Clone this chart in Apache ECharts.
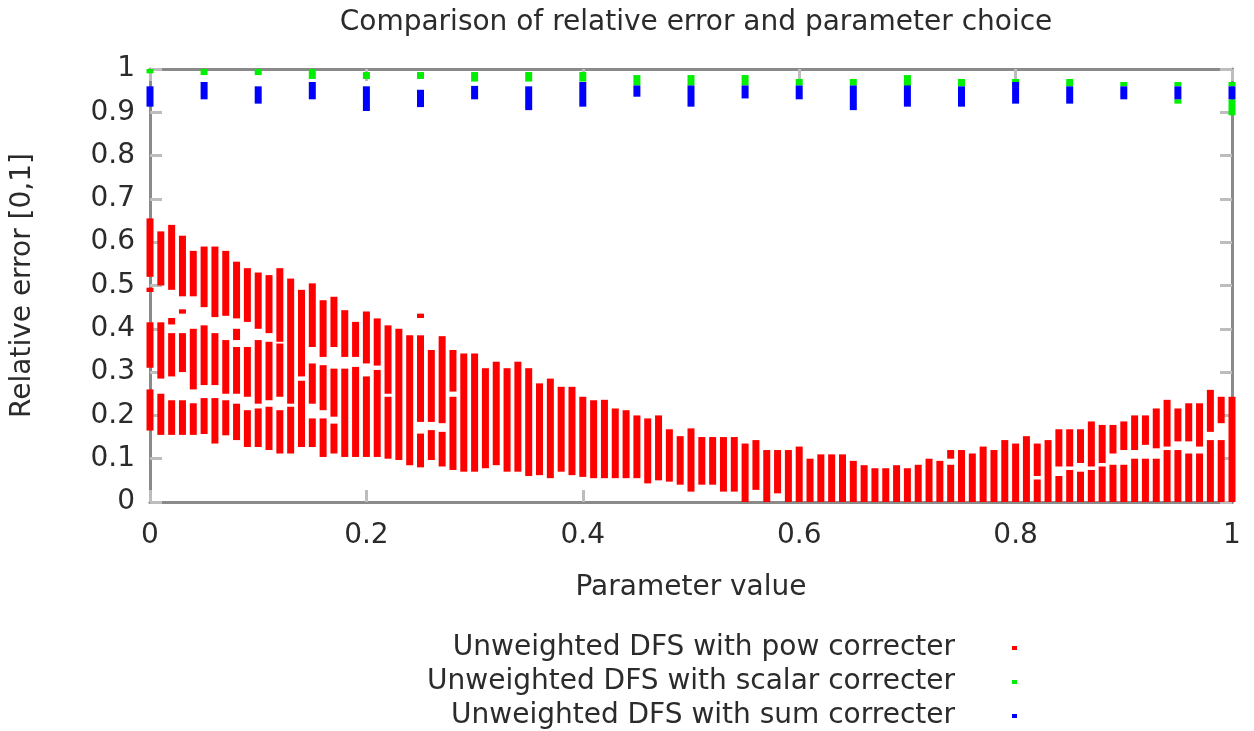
<!DOCTYPE html>
<html>
<head>
<meta charset="utf-8">
<script src="https://cdn.jsdelivr.net/npm/echarts@6/dist/echarts.min.js"></script>
<style>html,body{margin:0;padding:0;background:#fff;}#c{width:1254px;height:731px;}</style>
</head>
<body>
<div id="c"></div>
<script>
// ---- data ----
const titleText = 'Comparison of relative error and parameter choice';
const xName = 'Parameter value';
const yName = 'Relative error [0,1]';
const seriesNames = ['Unweighted DFS with pow correcter', 'Unweighted DFS with scalar correcter', 'Unweighted DFS with sum correcter'];
const xTickLabels = ['0', '0.2', '0.4', '0.6', '0.8', '1'];
const yTickLabels = ['0', '0.1', '0.2', '0.3', '0.4', '0.5', '0.6', '0.7', '0.8', '0.9', '1'];

// pow corrector: parameter values and the y-ranges covered by the dense dots in each column
const powX = [0, 0.01, 0.02, 0.03, 0.04, 0.05, 0.06, 0.07, 0.08, 0.09,
  0.10, 0.11, 0.12, 0.13, 0.14, 0.15, 0.16, 0.17, 0.18, 0.19,
  0.20, 0.21, 0.22, 0.23, 0.24, 0.25, 0.26, 0.27, 0.28, 0.29,
  0.30, 0.31, 0.32, 0.33, 0.34, 0.35, 0.36, 0.37, 0.38, 0.39,
  0.40, 0.41, 0.42, 0.43, 0.44, 0.45, 0.46, 0.47, 0.48, 0.49,
  0.50, 0.51, 0.52, 0.53, 0.54, 0.55, 0.56, 0.57, 0.58, 0.59,
  0.60, 0.61, 0.62, 0.63, 0.64, 0.65, 0.66, 0.67, 0.68, 0.69,
  0.70, 0.71, 0.72, 0.73, 0.74, 0.75, 0.76, 0.77, 0.78, 0.79,
  0.80, 0.81, 0.82, 0.83, 0.84, 0.85, 0.86, 0.87, 0.88, 0.89,
  0.90, 0.91, 0.92, 0.93, 0.94, 0.95, 0.96, 0.97, 0.98, 0.99, 1.00];
const powRanges = [
  [[0.52,0.655],[0.485,0.495],[0.31,0.415],[0.165,0.26]],
  [[0.50,0.625],[0.285,0.415],[0.155,0.25]],
  [[0.49,0.64],[0.41,0.425],[0.29,0.39],[0.155,0.235]],
  [[0.475,0.615],[0.435,0.445],[0.30,0.39],[0.155,0.235]],
  [[0.475,0.58],[0.26,0.40],[0.155,0.228]],
  [[0.45,0.59],[0.27,0.408],[0.157,0.24]],
  [[0.427,0.59],[0.27,0.39],[0.135,0.24]],
  [[0.43,0.58],[0.25,0.374],[0.154,0.235]],
  [[0.424,0.555],[0.374,0.40],[0.25,0.358],[0.143,0.227]],
  [[0.416,0.54],[0.243,0.358],[0.127,0.212]],
  [[0.40,0.53],[0.227,0.374],[0.127,0.216]],
  [[0.39,0.524],[0.235,0.37],[0.12,0.22]],
  [[0.37,0.54],[0.243,0.366],[0.112,0.212]],
  [[0.227,0.516],[0.112,0.22]],
  [[0.29,0.49],[0.127,0.28]],
  [[0.358,0.505],[0.227,0.32],[0.127,0.193]],
  [[0.335,0.466],[0.212,0.316],[0.104,0.193]],
  [[0.358,0.474],[0.197,0.308],[0.112,0.181]],
  [[0.335,0.443],[0.104,0.308]],
  [[0.335,0.416],[0.104,0.312]],
  [[0.32,0.44],[0.104,0.29]],
  [[0.315,0.424],[0.104,0.305]],
  [[0.25,0.408],[0.10,0.243]],
  [[0.097,0.40]],
  [[0.085,0.385]],
  [[0.425,0.435],[0.185,0.385],[0.08,0.158]],
  [[0.185,0.351],[0.097,0.166]],
  [[0.182,0.383],[0.082,0.162]],
  [[0.255,0.351],[0.074,0.243]],
  [[0.07,0.343]],
  [[0.07,0.343]],
  [[0.078,0.309]],
  [[0.085,0.324]],
  [[0.07,0.309]],
  [[0.07,0.324]],
  [[0.06,0.309]],
  [[0.062,0.274]],
  [[0.055,0.285]],
  [[0.07,0.266]],
  [[0.062,0.266]],
  [[0.058,0.243]],
  [[0.055,0.235]],
  [[0.055,0.236]],
  [[0.055,0.216]],
  [[0.055,0.212]],
  [[0.055,0.20]],
  [[0.043,0.193]],
  [[0.05,0.20]],
  [[0.047,0.168]],
  [[0.04,0.152]],
  [[0.024,0.17]],
  [[0.04,0.15]],
  [[0.04,0.15]],
  [[0.024,0.15]],
  [[0.024,0.15]],
  [[0.0,0.135]],
  [[0.028,0.143]],
  [[0.0,0.12]],
  [[0.02,0.12]],
  [[0.0,0.12]],
  [[0.0,0.128]],
  [[0.0,0.10]],
  [[0.0,0.11]],
  [[0.0,0.11]],
  [[0.0,0.11]],
  [[0.0,0.095]],
  [[0.0,0.085]],
  [[0.0,0.078]],
  [[0.0,0.078]],
  [[0.0,0.085]],
  [[0.0,0.078]],
  [[0.0,0.086]],
  [[0.0,0.10]],
  [[0.0,0.095]],
  [[0.10,0.12],[0.0,0.086]],
  [[0.0,0.12]],
  [[0.0,0.112]],
  [[0.0,0.128]],
  [[0.0,0.12]],
  [[0.0,0.143]],
  [[0.0,0.135]],
  [[0.0,0.152]],
  [[0.06,0.135],[0.0,0.052]],
  [[0.0,0.143]],
  [[0.082,0.168],[0.0,0.06]],
  [[0.082,0.168],[0.0,0.074]],
  [[0.09,0.168],[0.0,0.07]],
  [[0.082,0.186],[0.0,0.074]],
  [[0.09,0.178],[0.0,0.082]],
  [[0.112,0.178],[0.0,0.086]],
  [[0.12,0.186],[0.0,0.086]],
  [[0.12,0.20],[0.0,0.10]],
  [[0.132,0.20],[0.0,0.10]],
  [[0.124,0.216],[0.0,0.10]],
  [[0.128,0.236],[0.0,0.12]],
  [[0.14,0.216],[0.0,0.12]],
  [[0.14,0.228],[0.0,0.112]],
  [[0.128,0.228],[0.0,0.112]],
  [[0.162,0.259],[0.0,0.143]],
  [[0.182,0.243],[0.0,0.143]],
  [[0.0,0.243]]
];

// scalar and sum correctors: sampled every 0.05
const coarseX = [0, 0.05, 0.10, 0.15, 0.20, 0.25, 0.30, 0.35, 0.40, 0.45, 0.50,
  0.55, 0.60, 0.65, 0.70, 0.75, 0.80, 0.85, 0.90, 0.95, 1.00];
const scalarRanges = [
  [[0.99,1.0]], [[0.986,1.0]], [[0.986,1.0]], [[0.977,1.0]], [[0.977,0.993]],
  [[0.977,0.993]], [[0.971,0.993]], [[0.971,0.993]], [[0.971,0.993]], [[0.962,0.986]],
  [[0.962,0.986]], [[0.962,0.986]], [[0.962,0.977]], [[0.962,0.977]], [[0.96,0.986]],
  [[0.96,0.977]], [[0.96,0.977]], [[0.96,0.977]], [[0.96,0.97]], [[0.96,0.97],[0.92,0.93]],
  [[0.96,0.97],[0.893,0.93]]
];
const sumRanges = [
  [[0.913,0.96]], [[0.93,0.97]], [[0.92,0.96]], [[0.93,0.97]], [[0.903,0.96]],
  [[0.912,0.952]], [[0.93,0.961]], [[0.905,0.96]], [[0.913,0.97]], [[0.936,0.962]],
  [[0.913,0.962]], [[0.932,0.962]], [[0.93,0.962]], [[0.905,0.962]], [[0.913,0.962]],
  [[0.913,0.96]], [[0.92,0.97]], [[0.92,0.96]], [[0.93,0.96]], [[0.93,0.96]],
  [[0.93,0.96]]
];

// ---- build ----
function toItems(xs, ranges) {
  const out = [];
  xs.forEach(function (x, i) {
    ranges[i].forEach(function (r) { out.push([x, r[0], r[1]]); });
  });
  return out;
}
const COL_W = 7;
function renderCol(params, api) {
  const x = api.value(0), lo = api.value(1), hi = api.value(2);
  const pTop = api.coord([x, hi]);
  const pBot = api.coord([x, lo]);
  return {
    type: 'rect',
    shape: { x: pTop[0] - COL_W / 2, y: pTop[1], width: COL_W, height: Math.max(pBot[1] - pTop[1], 2) },
    style: { fill: api.visual('color') }
  };
}
const FONT = 'DejaVu Sans';
const TXT = '#2b2b2b';
const axisLineStyle = { color: '#8a8a8a', width: 3 };
const tickStyle = { color: '#bdbdbd', width: 3 };

const chart = echarts.init(document.getElementById('c'), null, { renderer: 'canvas' });
chart.setOption({
  backgroundColor: '#ffffff',
  animation: false,
  color: ['#ff0000', '#00ee00', '#0000ff'],
  title: {
    text: titleText,
    left: 691, top: 4, textAlign: 'center',
    textStyle: { fontFamily: FONT, fontSize: 28, fontWeight: 'normal', color: TXT }
  },
  legend: {
    orient: 'vertical', align: 'right',
    right: 232, top: 628, height: 140,
    itemWidth: 5, itemHeight: 4, itemGap: 4,
    icon: 'rect',
    data: seriesNames,
    textStyle: { fontFamily: FONT, fontSize: 28, color: TXT, lineHeight: 30, padding: [0, 52, 0, 0] }
  },
  grid: { left: 150, right: 22, top: 69, bottom: 229 },
  xAxis: [{
    type: 'value', min: 0, max: 1, interval: 0.2, position: 'bottom',
    name: xName, nameLocation: 'middle', nameGap: 72,
    nameTextStyle: { fontFamily: FONT, fontSize: 28, color: TXT },
    axisLine: { show: true, onZero: false, lineStyle: axisLineStyle },
    axisTick: { show: true, inside: true, length: 12, lineStyle: tickStyle },
    axisLabel: { margin: 20, fontFamily: FONT, fontSize: 28, color: TXT,
      formatter: function (v) { return xTickLabels[Math.round(v / 0.2)]; } },
    splitLine: { show: false }
  }, {
    type: 'value', min: 0, max: 1, interval: 0.2, position: 'top',
    axisLine: { show: true, onZero: false, lineStyle: axisLineStyle },
    axisTick: { show: true, inside: true, length: 12, lineStyle: tickStyle },
    axisLabel: { show: false }, splitLine: { show: false }
  }],
  yAxis: [{
    type: 'value', min: 0, max: 1, interval: 0.1, position: 'left',
    name: yName, nameLocation: 'middle', nameGap: 113, nameRotate: 90,
    nameTextStyle: { fontFamily: FONT, fontSize: 28, color: TXT },
    axisLine: { show: true, onZero: false, lineStyle: axisLineStyle },
    axisTick: { show: true, inside: true, length: 12, lineStyle: tickStyle },
    axisLabel: { margin: 15, fontFamily: FONT, fontSize: 28, color: TXT,
      formatter: function (v) { return yTickLabels[Math.round(v / 0.1)]; } },
    splitLine: { show: false }
  }, {
    type: 'value', min: 0, max: 1, interval: 0.1, position: 'right',
    axisLine: { show: true, onZero: false, lineStyle: axisLineStyle },
    axisTick: { show: true, inside: true, length: 12, lineStyle: tickStyle },
    axisLabel: { show: false }, splitLine: { show: false }
  }],
  series: [
    { name: seriesNames[0], type: 'custom', renderItem: renderCol, xAxisIndex: 0, yAxisIndex: 0,
      encode: { x: 0, y: [1, 2] }, data: toItems(powX, powRanges) },
    { name: seriesNames[1], type: 'custom', renderItem: renderCol, xAxisIndex: 0, yAxisIndex: 0,
      encode: { x: 0, y: [1, 2] }, data: toItems(coarseX, scalarRanges) },
    { name: seriesNames[2], type: 'custom', renderItem: renderCol, xAxisIndex: 0, yAxisIndex: 0,
      encode: { x: 0, y: [1, 2] }, data: toItems(coarseX, sumRanges) }
  ]
});
</script>
</body>
</html>
